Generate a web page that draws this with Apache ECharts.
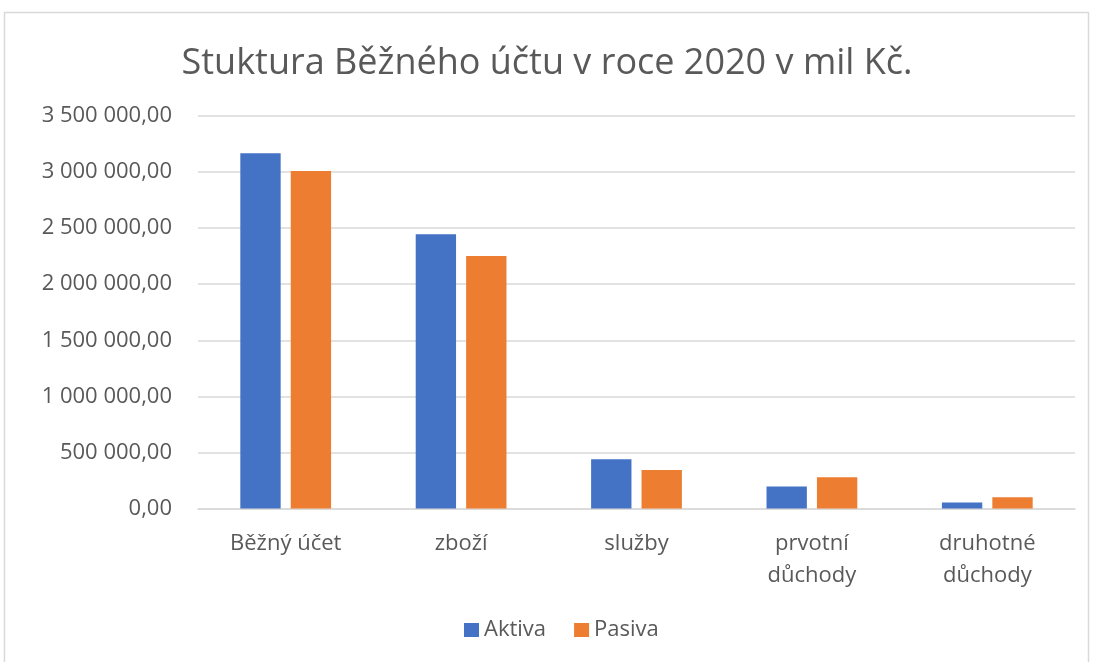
<!DOCTYPE html>
<html><head><meta charset="utf-8">
<script src="https://cdn.jsdelivr.net/npm/echarts@6/dist/echarts.min.js"></script>
<style>html,body{margin:0;padding:0;background:#fff}#c{width:1094px;height:662px}</style>
</head><body><div id="c"></div>
<script>
const categories = ['Běžný účet', 'zboží', 'služby', 'prvotní\ndůchody', 'druhotné\ndůchody'];
const aktiva = [3167000, 2445000, 439000, 196000, 54000];
const pasiva = [3010000, 2252000, 343000, 279000, 101000];
const seriesNames = ['Aktiva', 'Pasiva'];
const titleText = 'Stuktura Běžného účtu v roce 2020 v mil Kč.';

function fmt(v){
  const s = Math.round(v).toString().replace(/\B(?=(\d{3})+(?!\d))/g, ' ');
  return s + ',00';
}
const FONT = '"Open Sans", "Noto Sans", sans-serif';
const chart = echarts.init(document.getElementById('c'));
chart.setOption({
  backgroundColor: '#fff',
  animation: false,
  graphic: [{type:'rect', shape:{x:4.5,y:12.5,width:1084,height:660}, style:{fill:'none', stroke:'#d9d9d9', lineWidth:1.5}}],
  title: {text: titleText, left: 'center', top: 41, textStyle:{fontFamily: FONT, fontWeight:'normal', fontSize: 36, color:'#595959'}},
  legend: {data: seriesNames, top: 614, left: 459, itemWidth: 15, itemHeight: 14, itemGap: 28, icon: 'rect',
    textStyle:{fontFamily: FONT, fontSize: 22, color:'#595959', padding:[0,0,0,0]}},
  grid: {left: 198, right: 19, top: 116, bottom: 153.5},
  xAxis: {type:'category', data: categories,
    axisLine:{lineStyle:{color:'#d9d9d9', width:1.5}}, axisTick:{show:false},
    axisLabel:{fontFamily: FONT, fontSize:22, color:'#595959', margin: 19, lineHeight: 32}},
  yAxis: {type:'value', min:0, max:3500000, interval:500000,
    axisLine:{show:false}, axisTick:{show:false},
    splitLine:{lineStyle:{color:'#d9d9d9', width:1.5}},
    axisLabel:{fontFamily: FONT, fontSize:22, color:'#595959', margin: 26, formatter: fmt}},
  series: [
    {name: seriesNames[0], type:'bar', data: aktiva, barWidth: '23%', barGap: '25%', itemStyle:{color:'#4472c4'}},
    {name: seriesNames[1], type:'bar', data: pasiva, barWidth: '23%', barGap: '25%', itemStyle:{color:'#ed7d31'}}
  ]
});
</script></body></html>
